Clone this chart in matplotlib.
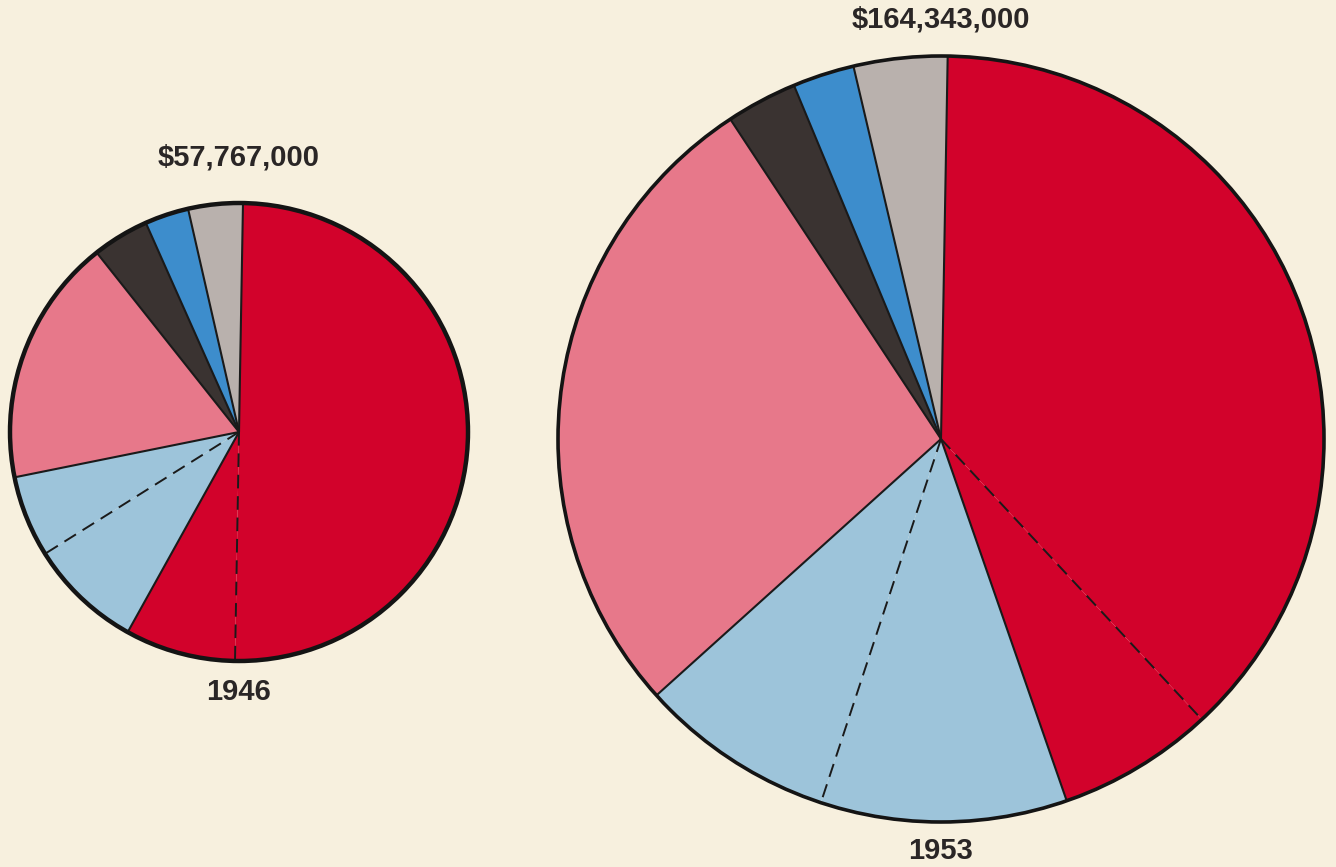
import numpy as np
import matplotlib
matplotlib.use("Agg")
import matplotlib.pyplot as plt
from matplotlib.patches import Circle

# ---- data (shares of total, %, clockwise from top) ----
segments = ["red_a", "red_b", "lblue_a", "lblue_b", "pink", "dark", "blue", "gray"]
groups = ["red", "red", "lblue", "lblue", "pink", "dark", "blue", "gray"]
share_1946 = [50.0, 7.8, 8.0, 5.75, 17.5, 4.0, 3.1, 3.85]
share_1953 = [37.8, 6.6, 10.4, 8.25, 27.4, 3.0, 2.6, 3.95]
totals = ["$57,767,000", "$164,343,000"]
years = ["1946", "1953"]

group_colors = {"red": "#d2022b", "lblue": "#9dc4da", "pink": "#e7788a",
                "dark": "#3a3331", "blue": "#3d8dcc", "gray": "#b9b1ad"}

W, H = 1336, 867
fig = plt.figure(figsize=(W / 100, H / 100), dpi=100)
fig.patch.set_facecolor("#f7f0de")
ax = fig.add_axes([0, 0, 1, 1])
ax.set_facecolor("#f7f0de")

pies = [
    dict(vals=share_1946, cx=239, cy=H - 432, r=229, lw_out=3.2,
         total=totals[0], year=years[0], ty=H - 157, yy=H - 692),
    dict(vals=share_1953, cx=941, cy=H - 439, r=383, lw_out=2.6,
         total=totals[1], year=years[1], ty=H - 20, yy=H - 851),
]

cols = [group_colors[g] for g in groups]
for p in pies:
    wedges, _ = ax.pie(p["vals"], colors=cols, startangle=89, counterclock=False,
                       center=(p["cx"], p["cy"]), radius=p["r"],
                       wedgeprops=dict(linewidth=0, edgecolor="none"), frame=True)
    n = len(wedges)
    for i in range(n):
        ang = np.deg2rad(wedges[i].theta2)
        same = groups[i - 1] == groups[i]
        x1 = p["cx"] + p["r"] * np.cos(ang)
        y1 = p["cy"] + p["r"] * np.sin(ang)
        if same:
            ax.plot([p["cx"], x1], [p["cy"], y1], color="#1a1a1a", lw=1.4,
                    linestyle=(0, (7, 4)), zorder=3)
        else:
            ax.plot([p["cx"], x1], [p["cy"], y1], color="#1a1a1a", lw=1.5,
                    solid_capstyle="butt", zorder=3)
    ax.add_patch(Circle((p["cx"], p["cy"]), p["r"], fill=False,
                        edgecolor="#141414", lw=p["lw_out"], zorder=4))
    ax.text(p["cx"], p["ty"], p["total"], ha="center", va="center",
            fontsize=21, fontweight="bold", family="Liberation Sans",
            color="#2a2626", zorder=5)
    ax.text(p["cx"], p["yy"], p["year"], ha="center", va="center",
            fontsize=21, fontweight="bold", family="Liberation Sans",
            color="#2a2626", zorder=5)

ax.set_xlim(0, W)
ax.set_ylim(0, H)
ax.set_aspect("equal")
ax.axis("off")
fig.savefig("out.png", dpi=100, facecolor=fig.get_facecolor())
